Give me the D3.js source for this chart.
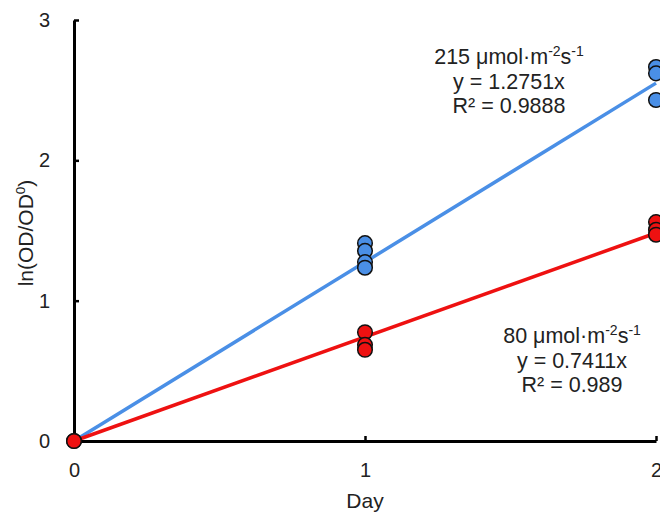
<!DOCTYPE html>
<html><head><meta charset="utf-8">
<script src="https://cdn.jsdelivr.net/npm/d3@7"></script>
<style>body{margin:0;background:#fff;}svg{display:block;font-family:"Liberation Sans",Arial,sans-serif;}</style>
</head><body>
<script>
const days = [0, 1, 2];
const xTicks = [0, 1, 2];
const yTicks = [0, 1, 2, 3];
const highDay = [0, 1, 1, 1, 1, 2, 2, 2];
const highVals = [0, 1.41, 1.355, 1.275, 1.235, 2.665, 2.62, 2.43];
const lowDay = [0, 1, 1, 1, 2, 2, 2];
const lowVals = [0, 0.775, 0.685, 0.65, 1.56, 1.505, 1.47];
const highSlope = 1.2751, lowSlope = 0.7411;
const highLabel = ["215 μmol·m", "-2", "s", "-1"], highEq = "y = 1.2751x", highR = "R² = 0.9888";
const lowLabel = ["80 μmol·m", "-2", "s", "-1"], lowEq = "y = 0.7411x", lowR = "R² = 0.989";

const W = 660, H = 517;
const FS = 20, AFS = 21.5;
const svg = d3.select("body").append("svg").attr("width", W).attr("height", H);
const x = d3.scaleLinear().domain([0, 2]).range([74, 656]);
const y = d3.scaleLinear().domain([0, 3]).range([441, 20]);
const blue = "#4a8fe6", red = "#ee1111";

// axes
const xAxis = svg.append("g").attr("transform", `translate(0,${y(0)})`)
  .call(d3.axisBottom(x).tickValues(xTicks).tickFormat(d3.format("d")).tickSizeInner(-5).tickSizeOuter(0).tickPadding(22));
const yAxis = svg.append("g").attr("transform", `translate(${x(0)},0)`)
  .call(d3.axisLeft(y).tickValues(yTicks).tickFormat(d3.format("d")).tickSizeInner(-5).tickSizeOuter(0).tickPadding(24));
[xAxis, yAxis].forEach(g => {
  g.select(".domain").attr("stroke", "#000").attr("stroke-width", 3);
  g.selectAll(".tick line").attr("stroke", "#000").attr("stroke-width", 2.5);
  g.selectAll(".tick text").attr("font-size", FS).attr("fill", "#222").attr("font-family", "Liberation Sans, Arial, sans-serif");
});

svg.append("text").attr("x", x(1)).attr("y", 508).attr("text-anchor", "middle")
  .attr("font-size", 21).attr("fill", "#222").text("Day");
const yl = svg.append("text").attr("transform", `translate(33,233) rotate(-90)`)
  .attr("text-anchor", "middle").attr("font-size", 21).attr("fill", "#222");
yl.append("tspan").text("ln(OD/OD");
yl.append("tspan").attr("font-size", 13.5).attr("dy", -8).text("0");
yl.append("tspan").attr("dy", 8).text(")");

// regression lines
[[highSlope, blue], [lowSlope, red]].forEach(([s, c]) => {
  svg.append("line").attr("x1", x(0)).attr("y1", y(0)).attr("x2", x(2)).attr("y2", y(2 * s))
    .attr("stroke", c).attr("stroke-width", 3.5);
});

// points
function pts(ds, vs, c) {
  svg.append("g").selectAll("circle").data(vs).join("circle")
    .attr("cx", (d, i) => x(ds[i])).attr("cy", d => y(d)).attr("r", 7.3)
    .attr("fill", c).attr("stroke", "#111").attr("stroke-width", 1.5);
}
pts(highDay, highVals, blue);
pts(lowDay, lowVals, red);

// annotations
function annot(cx, cy, lab, eq, r) {
  const t = svg.append("text").attr("x", cx).attr("y", cy).attr("text-anchor", "middle")
    .attr("font-size", AFS).attr("fill", "#222");
  t.append("tspan").text(lab[0]);
  t.append("tspan").attr("font-size", 14).attr("dy", -8).text(lab[1]);
  t.append("tspan").attr("dy", 8).text(lab[2]);
  t.append("tspan").attr("font-size", 14).attr("dy", -8).text(lab[3]);
  svg.append("text").attr("x", cx).attr("y", cy + 24.5).attr("text-anchor", "middle")
    .attr("font-size", AFS).attr("fill", "#222").text(eq);
  svg.append("text").attr("x", cx).attr("y", cy + 49).attr("text-anchor", "middle")
    .attr("font-size", AFS).attr("fill", "#222").text(r);
}
annot(509, 64, highLabel, highEq, highR);
annot(572, 343, lowLabel, lowEq, lowR);
</script>
</body></html>
